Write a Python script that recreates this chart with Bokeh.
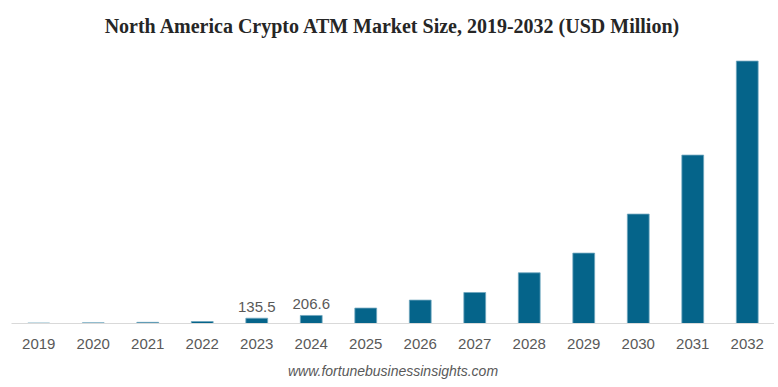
from bokeh.plotting import figure
from bokeh.models import ColumnDataSource, Title, FactorRange, Range1d
from bokeh.core.properties import value
from bokeh.embed import file_html
from bokeh.resources import INLINE

years = ["2019", "2020", "2021", "2022", "2023", "2024", "2025",
         "2026", "2027", "2028", "2029", "2030", "2031", "2032"]
market_size = [13, 18, 30, 51, 135.5, 206.6, 396,
               601, 797, 1303, 1809, 2812, 4328, 6744]
label_years = ["2023", "2024"]
label_values = [135.5, 206.6]
label_texts = ["135.5", "206.6"]

UNITS_PER_PX = 25.7
FRAME_H = 275

p = figure(
    x_range=FactorRange(factors=years, range_padding=0),
    y_range=Range1d(0, FRAME_H * UNITS_PER_PX),
    frame_width=763, frame_height=FRAME_H,
    min_border_left=11, min_border_right=0, min_border_top=0, min_border_bottom=0,
    output_backend="svg", toolbar_location=None,
    title="North America Crypto ATM Market Size, 2019-2032 (USD Million)",
)

src = ColumnDataSource(dict(year=years, value=market_size))
p.vbar(x="year", top="value", width=0.40, source=src,
       fill_color="#05648a", line_color="#6fa6be", line_width=0.8)

lsrc = ColumnDataSource(dict(year=label_years, value=label_values, text=label_texts))
p.text(x="year", y="value", text="text", source=lsrc, y_offset=-6,
       text_align="center", text_baseline="bottom",
       text_font=value("Liberation Sans"), text_font_size="15px", text_color="#595959")

p.title.text_font = "Liberation Serif"
p.title.text_font_style = "bold"
p.title.text_font_size = "20px"
p.title.text_color = "#262626"
p.title.align = "center"
p.title.padding = 2
p.title.standoff = 20

p.yaxis.visible = False
p.xgrid.visible = False
p.ygrid.visible = False
p.outline_line_color = None
p.xaxis.axis_line_color = "#d9d9d9"
p.xaxis.major_tick_line_color = None
p.xaxis.minor_tick_line_color = None
p.xaxis.major_label_text_font = "Liberation Sans"
p.xaxis.major_label_text_font_size = "15px"
p.xaxis.major_label_text_color = "#595959"
p.xaxis.major_label_standoff = 9

p.add_layout(Title(text="www.fortunebusinessinsights.com", align="center",
                   text_font="Liberation Sans", text_font_style="italic",
                   text_font_size="14px", text_color="#595959", standoff=19), "below")

open("out.html", "w").write(file_html(p, INLINE))
